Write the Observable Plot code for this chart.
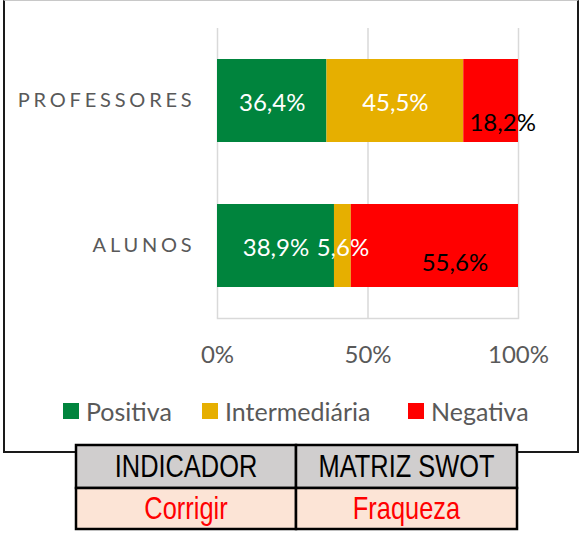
<!DOCTYPE html>
<html><head><meta charset="utf-8">
<script src="https://cdn.jsdelivr.net/npm/d3@7"></script>
<script src="https://cdn.jsdelivr.net/npm/@observablehq/plot@0.6"></script>
<style>
body{margin:0;background:#fff;}
#wrap{position:relative;width:581px;height:540px;overflow:hidden;font-family:Lato,sans-serif;}
#box{position:absolute;left:3px;top:0;width:572px;height:450px;border:2px solid #1a1a1a;border-top:1px solid #c8c8c8;}
#chart{position:absolute;left:0;top:0;}
#chart g[aria-label="y-axis tick label"] text{letter-spacing:3.8px;}
#legend{position:absolute;left:0;top:399px;width:581px;height:26px;font-size:25px;line-height:24px;color:#595959;white-space:nowrap;}
.item{position:absolute;top:0;display:flex;align-items:center;}
.sw{width:16px;height:16px;margin-right:7px;}
#table{position:absolute;left:70px;top:440px;}
#table text{font-family:"Liberation Sans",Arial,sans-serif;font-size:31px;}
</style></head>
<body><div id="wrap"><div id="box"></div><div id="chart"></div><div id="legend"></div><svg id="table" width="455" height="95"></svg></div>
<script>
const categories = ["PROFESSORES", "ALUNOS"];
const series = ["Positiva", "Intermediária", "Negativa"];
const positiva = [36.4, 38.9];
const intermediaria = [45.5, 5.6];
const negativa = [18.2, 55.6];
const xTicks = [0, 0.5, 1];
const xTickLabels = ["0%", "50%", "100%"];
const colors = ["#00843D", "#E6AF00", "#FF0000"];
const tableHeaders = ["INDICADOR", "MATRIZ SWOT"];
const tableValues = ["Corrigir", "Fraqueza"];

const seriesValues = [positiva, intermediaria, negativa];
const data = [];
categories.forEach((c, i) => series.forEach((s, j) => data.push({category: c, series: s, value: seriesValues[j][i]})));
const fmt = v => v.toFixed(1).replace(".", ",") + "%";
const stack = extra => Plot.stackX({x: "value", y: "category", z: "series", offset: "normalize", ...extra});

const chart = Plot.plot({
  width: 581, height: 380,
  marginLeft: 217, marginRight: 63, marginTop: 28, marginBottom: 62,
  style: {fontFamily: "Lato, sans-serif", background: "transparent", overflow: "visible"},
  x: {domain: [0, 1]},
  y: {domain: categories, paddingInner: 0.43, paddingOuter: 0.215},
  color: {domain: series, range: colors},
  marks: [
    Plot.ruleX(xTicks, {stroke: "#D9D9D9", strokeWidth: 1.5}),
    Plot.frame({anchor: "bottom", stroke: "#D9D9D9", strokeWidth: 1.5}),
    Plot.barX(data, stack({fill: "series"})),
    Plot.text(data, stack({text: d => d.series !== "Negativa" ? fmt(d.value) : null, fill: "white", fontSize: 24, dy: 2.5})),
    Plot.text(data, stack({text: d => d.series === "Negativa" && d.category === "PROFESSORES" ? fmt(d.value) : null, fill: "black", fontSize: 24, dx: 11.5, dy: 22.5})),
    Plot.text(data, stack({text: d => d.series === "Negativa" && d.category === "ALUNOS" ? fmt(d.value) : null, fill: "black", fontSize: 24, dx: 20, dy: 17})),
    Plot.axisX({ticks: xTicks, tickFormat: d => xTickLabels[xTicks.indexOf(d)], tickSize: 0, tickPadding: 27, fontSize: 24, fill: "#595959", label: null}),
    Plot.axisY({tickSize: 0, tickPadding: 22, fontSize: 20, fill: "#595959", label: null})
  ]
});
document.getElementById("chart").append(chart);

const legend = document.getElementById("legend");
const legendLeft = [63, 202, 408];
series.forEach((s, i) => {
  const it = document.createElement("div"); it.className = "item"; it.style.left = legendLeft[i] + "px";
  const sw = document.createElement("div"); sw.className = "sw"; sw.style.background = colors[i];
  const t = document.createElement("span"); t.textContent = s;
  it.append(sw, t); legend.append(it);
});

// table
const ns = "http://www.w3.org/2000/svg";
const tsvg = document.getElementById("table");
const ox = 70, oy = 440;
const colX = [76, 296, 517], rowY = [445, 488, 529];
const rows = [{vals: tableHeaders, fill: "#D0CECE", color: "#000"}, {vals: tableValues, fill: "#FCE4D6", color: "#FF0000"}];
rows.forEach((r, ri) => {
  r.vals.forEach((v, ci) => {
    const rect = document.createElementNS(ns, "rect");
    rect.setAttribute("x", colX[ci] - ox); rect.setAttribute("y", rowY[ri] - oy);
    rect.setAttribute("width", colX[ci + 1] - colX[ci]); rect.setAttribute("height", rowY[ri + 1] - rowY[ri]);
    rect.setAttribute("fill", r.fill); rect.setAttribute("stroke", "#000"); rect.setAttribute("stroke-width", 2.5);
    tsvg.append(rect);
  });
});
rows.forEach((r, ri) => {
  r.vals.forEach((v, ci) => {
    const t = document.createElementNS(ns, "text");
    const cx = (colX[ci] + colX[ci + 1]) / 2 - ox;
    const cy = (rowY[ri] + rowY[ri + 1]) / 2 - oy + 10.5;
    t.setAttribute("transform", `translate(${cx},${cy}) scale(0.82,1)`);
    t.setAttribute("text-anchor", "middle");
    t.setAttribute("fill", r.color);
    t.textContent = v;
    tsvg.append(t);
  });
});
</script></body></html>
